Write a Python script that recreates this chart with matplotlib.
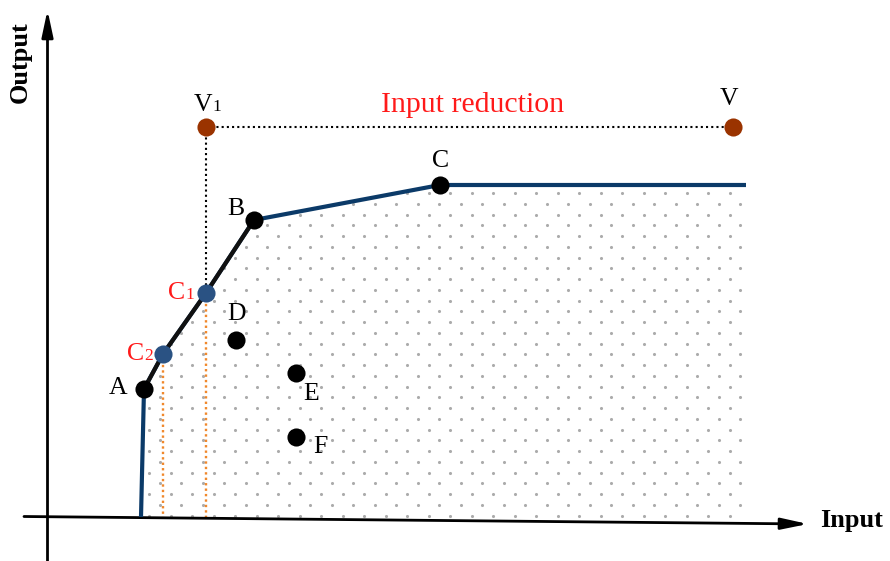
import matplotlib.pyplot as plt
import numpy as np
from matplotlib.patches import Polygon

# frontier vertices (bottom, A, C2, C1, B, C, right end)
frontier_x = [141, 144, 163, 206, 254, 440, 746]
frontier_y = [517, 389, 354, 293, 220, 185, 185]

# named points
eff_names = ["A", "B", "C"]
eff_x = [144, 254, 440]
eff_y = [389, 220, 185]

ineff_names = ["D", "E", "F"]
ineff_x = [236, 296, 296]
ineff_y = [340, 373, 437]

proj_names = ["C", "C"]
proj_sub = ["1", "2"]
proj_x = [206, 163]
proj_y = [293, 354]

virt_names = ["V", "V"]
virt_sub = ["1", ""]
virt_x = [206, 733]
virt_y = [127, 127]

NAVY = "#0b3a68"
BLUE = "#2a5283"
BROWN = "#9a3300"
ORANGE = "#f0882c"
RED = "#ff1a1a"

plt.rcParams["font.family"] = ["Liberation Serif", "DejaVu Serif"]

fig = plt.figure(figsize=(8.9, 5.61), dpi=100)
ax = fig.add_axes([0, 0, 1, 1])
ax.set_xlim(0, 890)
ax.set_ylim(561, 0)
ax.axis("off")

# dotted fill under the frontier
poly_pts = list(zip(frontier_x, frontier_y)) + [(746, 523)]
clip = Polygon(poly_pts, closed=True, facecolor="none", edgecolor="none")
ax.add_patch(clip)
gx, gy = [], []
for i, yy in enumerate(np.arange(515.5, 170, -10.75)):
    off = 0 if i % 2 == 0 else 10.75
    for xx in np.arange(149 - 21.5 * 8 + off, 760, 21.5):
        gx.append(xx)
        gy.append(yy)
dots = ax.scatter(gx, gy, s=5.0, color="#ababab", linewidths=0, zorder=1)
dots.set_clip_path(clip)

# axes with arrows
arrow = dict(arrowstyle="-|>,head_length=1.6,head_width=0.34",
             color="black", lw=2.0, shrinkA=0, shrinkB=0)
ax.annotate("", xy=(808, 524), xytext=(24, 516.5), arrowprops=arrow)
ax.annotate("", xy=(47.5, 10), xytext=(47.5, 561), arrowprops=arrow)
ax.text(820, 521, "Input", fontsize=19, fontweight="bold", ha="left", va="center")
ax.text(20, 62, "Output", fontsize=19, fontweight="bold", rotation=90,
        ha="center", va="center")

# guide lines
ax.plot([virt_x[0], virt_x[1]], [virt_y[0], virt_y[1]], color="black",
        lw=1.5, linestyle=(0, (1, 1.5)), zorder=2)
ax.plot([virt_x[0], proj_x[0]], [virt_y[0], proj_y[0]], color="black",
        lw=1.5, linestyle=(0, (1, 1.5)), zorder=2)
for px, py in zip(proj_x, proj_y):
    ax.plot([px, px], [py, 517], color=ORANGE, lw=1.7,
            linestyle=(0, (1, 1.3)), zorder=2)

# frontier
ax.plot(frontier_x, frontier_y, color=NAVY, lw=3.0, zorder=3,
        solid_capstyle="butt")
ax.plot(frontier_x[1:5], frontier_y[1:5], color="#111111", lw=3.0, zorder=3.1)

# markers
ax.scatter(eff_x + ineff_x, eff_y + ineff_y, s=170, color="black", zorder=4,
           linewidths=0)
ax.scatter(proj_x, proj_y, s=170, color=BLUE, zorder=4, linewidths=0)
ax.scatter(virt_x, virt_y, s=170, color=BROWN, zorder=4, linewidths=0)

# labels
fs = 18.5
label_pos = {"A": (118, 388), "B": (236, 209), "C": (441, 161),
             "D": (237, 314), "E": (311, 394), "F": (320, 447)}
for n in eff_names + ineff_names:
    lx, ly = label_pos[n]
    ax.text(lx, ly, n, fontsize=fs, ha="center", va="center", zorder=5)

proj_lab = [(185, 291), (144, 352)]
for n, sub, (lx, ly) in zip(proj_names, proj_sub, proj_lab):
    ax.text(lx, ly + 8, n, fontsize=fs, color=RED, ha="right", va="baseline")
    ax.text(lx, ly + 8, sub, fontsize=12.5, color=RED, ha="left", va="baseline")

virt_lab = [(212, 103), (729, 99)]
for n, sub, (lx, ly) in zip(virt_names, virt_sub, virt_lab):
    if sub:
        ax.text(lx, ly + 8, n, fontsize=fs, ha="right", va="baseline")
        ax.text(lx, ly + 8, sub, fontsize=12.5, ha="left", va="baseline")
    else:
        ax.text(lx, ly, n, fontsize=fs, ha="center", va="center")

ax.text(473, 105, "Input reduction", fontsize=21.5, color=RED,
        ha="center", va="center")

fig.savefig("out.png", dpi=100)
